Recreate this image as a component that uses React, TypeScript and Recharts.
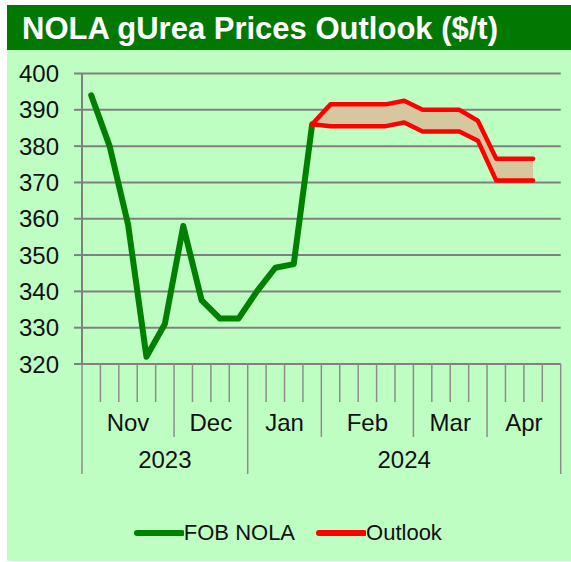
import React from "react";
import { ComposedChart, Line, Area, XAxis, YAxis, CartesianGrid, Legend } from "recharts";

// weekly observations (Thursdays), Nov 2023 - Apr 2024
const weeks = [
  "2023-11-02", "2023-11-09", "2023-11-16", "2023-11-23", "2023-11-30",
  "2023-12-07", "2023-12-14", "2023-12-21", "2023-12-28",
  "2024-01-04", "2024-01-11", "2024-01-18", "2024-01-25",
  "2024-02-01", "2024-02-08", "2024-02-15", "2024-02-22", "2024-02-29",
  "2024-03-07", "2024-03-14", "2024-03-21", "2024-03-28",
  "2024-04-04", "2024-04-11", "2024-04-18", "2024-04-25",
];

const fobNola = [
  394, 380, 358.5, 322, 331, 358, 337.5, 332.5, 332.5, 340, 346.5, 347.5, 386,
  null, null, null, null, null, null, null, null, null, null, null, null, null,
];

const outlookHigh = [
  null, null, null, null, null, null, null, null, null, null, null, null,
  386, 391.5, 391.5, 391.5, 391.5, 392.5, 390, 390, 390, 387, 376.5, 376.5, 376.5, null,
];

const outlookLow = [
  null, null, null, null, null, null, null, null, null, null, null, null,
  386, 385.5, 385.5, 385.5, 385.5, 386.5, 384, 384, 384, 381.5, 370.5, 370.5, 370.5, null,
];

const yTicks = [320, 330, 340, 350, 360, 370, 380, 390, 400];
const monthNames = ["Jan", "Feb", "Mar", "Apr", "May", "Jun", "Jul", "Aug", "Sep", "Oct", "Nov", "Dec"];

const FONT = '"Liberation Sans", Arial, Helvetica, sans-serif';
const GREEN = "#008000";
const RED = "#ff0000";
const GRID = "#808080";

const CHART_W = 564;
const CHART_H = 510;
const Y_AXIS_W = 75;
const MARGIN = { top: 23.5, right: 10.3, left: 0, bottom: 7 };
const FALLBACK_HALF = (CHART_W - Y_AXIS_W - MARGIN.right) / weeks.length / 2;

const monthKey = (w: string) => w.slice(0, 7);
const yearKey = (w: string) => w.slice(0, 4);

const data = weeks.map((w, i) => ({
  week: w,
  fob: fobNola[i],
  high: outlookHigh[i],
  low: outlookLow[i],
  range: outlookHigh[i] != null && outlookLow[i] != null ? [outlookLow[i], outlookHigh[i]] : null,
}));

function spanFrom(i: number, key: (w: string) => string) {
  let n = 0;
  while (i + n < weeks.length && key(weeks[i + n]) === key(weeks[i])) n++;
  return n;
}

function WeekTick(props: any) {
  const { x, y, payload } = props;
  const i: number = payload.index ?? props.index;
  const half = payload.offset > 3 ? payload.offset : FALLBACK_HALF;
  const yearStart = i === 0 || yearKey(weeks[i]) !== yearKey(weeks[i - 1]);
  const monthStart = i === 0 || monthKey(weeks[i]) !== monthKey(weeks[i - 1]);
  const len = yearStart ? 110 : monthStart ? 73 : 38;
  const left = x - half;
  const w = weeks[i];
  return (
    <g>
      <line x1={left} y1={y} x2={left} y2={y + len} stroke="#8c8c8c" strokeWidth={1.5} />
      {i === weeks.length - 1 && (
        <line x1={x + half} y1={y} x2={x + half} y2={y + 110} stroke="#8c8c8c" strokeWidth={1.5} />
      )}
      {monthStart && (
        <text x={left + spanFrom(i, monthKey) * half} y={y + 67} textAnchor="middle" fill="#111" fontSize={24} fontFamily={FONT}>
          {monthNames[Number(w.slice(5, 7)) - 1]}
        </text>
      )}
      {yearStart && (
        <text x={left + spanFrom(i, yearKey) * half} y={y + 104} textAnchor="middle" fill="#111" fontSize={24} fontFamily={FONT}>
          {yearKey(w)}
        </text>
      )}
    </g>
  );
}

function LegendBox() {
  const item = (color: string, label: string, gap: number) => (
    <div style={{ display: "flex", alignItems: "center", marginRight: gap }}>
      <svg width={50} height={10}>
        <line x1={3} y1={5} x2={48} y2={5} stroke={color} strokeWidth={6} strokeLinecap="round" />
      </svg>
      <span style={{ fontSize: 22, color: "#111" }}>{label}</span>
    </div>
  );
  return (
    <div style={{ display: "flex", justifyContent: "center", alignItems: "center", height: 40, paddingLeft: 8, fontFamily: FONT }}>
      {item(GREEN, "FOB NOLA", 21)}
      {item(RED, "Outlook", 0)}
    </div>
  );
}

export default function App() {
  return (
    <div style={{ position: "absolute", left: 7, top: 5, width: CHART_W, height: 556, background: "#bffec3", fontFamily: FONT }}>
      <div
        style={{
          height: 45,
          lineHeight: "45px",
          background: "#017801",
          color: "#fff",
          fontWeight: "bold",
          fontSize: 31,
          paddingLeft: 15,
          paddingTop: 1,
          boxSizing: "border-box",
          whiteSpace: "nowrap",
        }}
      >
        NOLA gUrea Prices Outlook ($/t)
      </div>
      <ComposedChart width={CHART_W} height={CHART_H} data={data} margin={MARGIN}>
        <CartesianGrid vertical={false} stroke={GRID} strokeWidth={2} />
        <XAxis
          dataKey="week"
          scale="band"
          interval={0}
          height={149}
          tickSize={0}
          tickMargin={0}
          tickLine={false}
          axisLine={{ stroke: GRID, strokeWidth: 2 }}
          tick={(p: any) => <WeekTick {...p} />}
        />
        <YAxis
          type="number"
          domain={[320, 400]}
          ticks={yTicks}
          interval={0}
          width={Y_AXIS_W}
          tickSize={8}
          tickMargin={15}
          tickLine={{ stroke: GRID, strokeWidth: 2 }}
          axisLine={{ stroke: GRID, strokeWidth: 2 }}
          tick={{ fill: "#111", fontSize: 24, fontFamily: FONT }}
        />
        <Legend verticalAlign="bottom" content={() => <LegendBox />} />
        <Area dataKey="range" fill="#d6c79f" fillOpacity={1} stroke="none" isAnimationActive={false} />
        <Line dataKey="fob" stroke={GREEN} strokeWidth={6} dot={false} strokeLinejoin="round" strokeLinecap="round" isAnimationActive={false} />
        <Line dataKey="high" stroke={RED} strokeWidth={4.5} dot={false} strokeLinejoin="round" strokeLinecap="round" isAnimationActive={false} />
        <Line dataKey="low" stroke={RED} strokeWidth={4.5} dot={false} strokeLinejoin="round" strokeLinecap="round" isAnimationActive={false} />
      </ComposedChart>
    </div>
  );
}
